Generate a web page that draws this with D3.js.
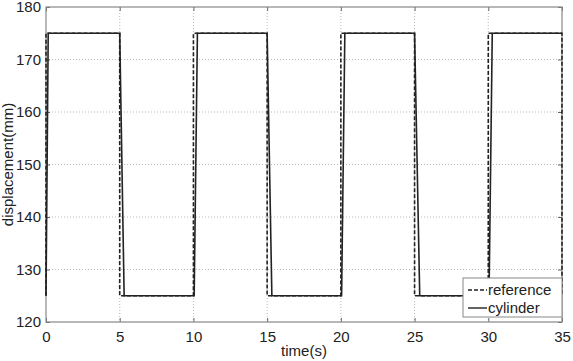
<!DOCTYPE html>
<html>
<head>
<meta charset="utf-8">
<script src="https://cdn.jsdelivr.net/npm/d3@7"></script>
<style>
  body { margin: 0; background: #fff; }
  text { font-family: "Liberation Sans", Arial, sans-serif; fill: #222; }
</style>
</head>
<body>
<div id="chart"></div>
<script>
// reference step signal
const refTime = [0, 0, 5, 5, 10, 10, 15, 15, 20, 20, 25, 25, 30, 30, 35, 35];
const refValue = [125, 175, 175, 125, 125, 175, 175, 125, 125, 175, 175, 125, 125, 175, 175, 125];

// cylinder response
const cylTime = [0, 0.15, 5.0, 5.3, 10.05, 10.27, 15.0, 15.32, 20.05, 20.27, 25.0, 25.35, 30.05, 30.27, 35];
const cylValue = [125, 175, 175, 125, 125, 175, 175, 125, 125, 175, 175, 125, 125, 175, 175];

const xTicks = [0, 5, 10, 15, 20, 25, 30, 35];
const yTicks = [120, 130, 140, 150, 160, 170, 180];

const W = 573, H = 361;
const margin = { top: 7, right: 11, bottom: 39, left: 46 };
const w = W - margin.left - margin.right;
const h = H - margin.top - margin.bottom;

const svg = d3.select("#chart").append("svg")
  .attr("width", W).attr("height", H);

const g = svg.append("g")
  .attr("transform", `translate(${margin.left},${margin.top})`);

const x = d3.scaleLinear().domain([0, 35]).range([0, w]);
const y = d3.scaleLinear().domain([120, 180]).range([h, 0]);

// 격자
g.append("g").selectAll("line").data(xTicks.slice(1, -1)).join("line")
  .attr("x1", d => x(d)).attr("x2", d => x(d))
  .attr("y1", 0).attr("y2", h)
  .attr("stroke", "#aaa").attr("stroke-width", 0.8).attr("stroke-dasharray", "1,2");
g.append("g").selectAll("line").data(yTicks.slice(1, -1)).join("line")
  .attr("x1", 0).attr("x2", w)
  .attr("y1", d => y(d)).attr("y2", d => y(d))
  .attr("stroke", "#aaa").attr("stroke-width", 0.8).attr("stroke-dasharray", "1,2");

// 축
const xAxis = g.append("g").attr("transform", `translate(0,${h})`)
  .call(d3.axisBottom(x).tickValues(xTicks).tickSize(-4).tickPadding(9));
const yAxis = g.append("g")
  .call(d3.axisLeft(y).tickValues(yTicks).tickSize(-4).tickPadding(5));
[xAxis, yAxis].forEach(a => {
  a.select(".domain").remove();
  a.selectAll("line").attr("stroke", "#666");
  a.selectAll("text").style("font-size", "15px").attr("fill", "#222");
});
g.append("g").attr("transform", `translate(${w},0)`)
  .call(d3.axisRight(y).tickValues(yTicks).tickSize(-4).tickFormat(""))
  .call(a => { a.select(".domain").remove(); a.selectAll("line").attr("stroke", "#666"); });
g.append("g")
  .call(d3.axisTop(x).tickValues(xTicks).tickSize(-4).tickFormat(""))
  .call(a => { a.select(".domain").remove(); a.selectAll("line").attr("stroke", "#666"); });

g.append("rect").attr("width", w).attr("height", h)
  .attr("fill", "none").attr("stroke", "#888").attr("stroke-width", 1.2);

// 선
const line = d3.line().x(d => x(d[0])).y(d => y(d[1]));
g.append("path")
  .attr("d", line(d3.zip(refTime, refValue)))
  .attr("fill", "none").attr("stroke", "#222").attr("stroke-width", 1.6)
  .attr("stroke-dasharray", "4,2");
g.append("path")
  .attr("d", line(d3.zip(cylTime, cylValue)))
  .attr("fill", "none").attr("stroke", "#222").attr("stroke-width", 1.6);

// 레이블
svg.append("text").attr("x", margin.left + w / 2).attr("y", 356)
  .attr("text-anchor", "middle").style("font-size", "15px").text("time(s)");
svg.append("text")
  .attr("transform", `translate(13,${margin.top + h / 2}) rotate(-90)`)
  .attr("text-anchor", "middle").style("font-size", "15px").text("displacement(mm)");

// 범례
const lg = g.append("g").attr("transform", `translate(${w - 99},${h - 44})`);
lg.append("rect").attr("width", 99).attr("height", 39)
  .attr("fill", "#fff").attr("stroke", "#888");
const items = [["reference", "4,2"], ["cylinder", null]];
items.forEach(([name, dash], i) => {
  const yy = 12 + i * 18;
  lg.append("line").attr("x1", 5).attr("x2", 24).attr("y1", yy).attr("y2", yy)
    .attr("stroke", "#222").attr("stroke-width", 1.4)
    .attr("stroke-dasharray", dash);
  lg.append("text").attr("x", 25).attr("y", yy + 5)
    .style("font-size", "15px").text(name);
});
</script>
</body>
</html>
